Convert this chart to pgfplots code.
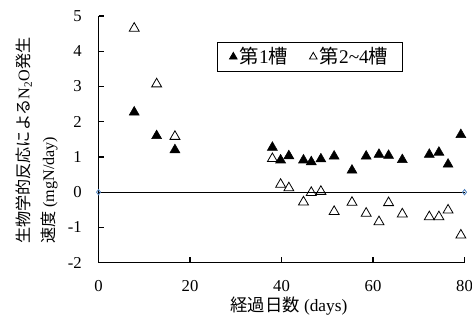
\documentclass[border=0pt]{standalone}
\usepackage{fontspec}
\setmainfont{Liberation Serif}
\newfontfamily\cjk{Noto Sans CJK JP}
\usepackage{pgfplots}
\pgfplotsset{compat=1.18}
\definecolor{zblue}{RGB}{79,129,189}
\begin{document}
\begin{tikzpicture}[font=\fontsize{12.5}{15}\selectfont]
\path[use as bounding box] (-73.9pt,-44.5pt) rectangle (280.1pt,197pt);
\begin{axis}[
  at={(0,0)}, anchor=south west,
  scale only axis, width=274.5pt, height=185pt,
  xmin=0, xmax=80, ymin=-2, ymax=5,
  axis x line*=bottom, axis y line*=left,
  axis line style={line width=1.1pt},
  tick style={line width=0.9pt, black},
  major tick length=4pt,
  tick align=inside,
  xtick={0,20,40,60,80}, ytick={-2,-1,0,1,2,3,4,5},
  /pgf/number format/assume math mode=true,
  yticklabel style={xshift=-9pt},
  xticklabel style={yshift=-9.5pt},
  clip=false,
  xlabel={{\cjk 経過日数} (days)},
  xlabel style={at={(axis description cs:0.52,0)}, anchor=center, yshift=-32.5pt, font=\fontsize{13}{15}\selectfont},
  ylabel={{\cjk 生物学的反応による}N\textsubscript{2}O{\cjk 発生}\\{\cjk 速度} (mgN/day)},
  ylabel style={at={(axis description cs:-0.169,0.495)}, anchor=center, align=left, font=\fontsize{12.1}{18.5}\selectfont},
  legend style={at={(axis description cs:0.324,0.895)}, anchor=north west, draw=black, line width=0.6pt, inner xsep=9pt, inner ysep=2pt,
    font=\fontsize{14.5}{16}\selectfont},
  legend columns=2,
  legend image post style={mark size=3.3pt},
  /tikz/every even column/.append style={column sep=14pt},
]
\addplot[only marks, mark=triangle*, mark size=4.3pt, black, mark options={fill=black}] coordinates {
(7.8,2.27) (12.7,1.6) (16.7,1.2) (38,1.27) (39.8,0.91) (41.6,1.03) (44.8,0.91) (46.5,0.86) (48.6,0.94) (51.5,1.02) (55.4,0.62) (58.5,1.02) (61.3,1.07) (63.4,1.04) (66.4,0.92) (72.3,1.07) (74.4,1.13) (76.4,0.79) (79.2,1.63)
};
\addlegendentry{{\cjk 第}1{\cjk 槽}}
\addplot[only marks, mark=triangle, mark size=4.3pt, black, mark options={fill=white, line width=0.6pt}] coordinates {
(7.8,4.65) (12.7,3.07) (16.7,1.58) (38,0.95) (39.8,0.22) (41.6,0.12) (44.8,-0.28) (46.5,-0.01) (48.6,0.02) (51.5,-0.55) (55.4,-0.29) (58.5,-0.6) (61.3,-0.84) (63.4,-0.3) (66.4,-0.62) (72.3,-0.7) (74.4,-0.7) (76.4,-0.51) (79.2,-1.22)
};
\addlegendentry{{\cjk 第}2\textasciitilde 4{\cjk 槽}}
\addplot[black, line width=1pt, mark=diamond, mark size=2pt, mark options={draw=zblue, fill=white, line width=0.6pt}, forget plot] coordinates {(0,0) (80,0)};
\end{axis}
\end{tikzpicture}
\end{document}
